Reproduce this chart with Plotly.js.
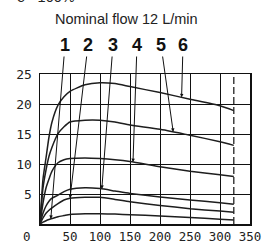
<!DOCTYPE html>
<html>
<head>
<meta charset="utf-8">
<script src="https://cdn.plot.ly/plotly-3.0.1.min.js"></script>
<style>html,body{margin:0;padding:0;background:#fff;}#chart{width:269px;height:244px;}</style>
</head>
<body>
<div id="chart"></div>
<script>
// Pressure (x) sample points
const pressure = [0, 5, 10, 15, 20, 30, 40, 50, 75, 100, 125, 150, 200, 250, 300, 323];
// Curves from top to bottom
const curveA = [0, 7.5, 11, 14.5, 17, 19.8, 21.2, 22.1, 23.2, 23.55, 23.4, 22.9, 21.9, 20.8, 19.7, 18.9];
const curveB = [0, 6, 9, 11.3, 12.8, 15.05, 16.2, 17.0, 17.3, 17.3, 17.0, 16.5, 15.8, 14.8, 13.7, 13.1];
const curveC = [0, 3.5, 6, 7.5, 8.8, 10.2, 10.7, 10.9, 11.0, 10.9, 10.7, 10.4, 9.55, 8.8, 8.2, 7.9];
const curveD = [0, 1.8, 3, 3.8, 4.3, 4.8, 5.4, 5.8, 6.05, 5.9, 5.5, 5.1, 4.5, 4.0, 3.55, 3.3];
const curveE = [0, 1.0, 1.8, 2.3, 2.7, 3.4, 4.0, 4.3, 4.45, 4.45, 4.1, 3.7, 3.1, 2.55, 2.15, 1.95];
const curveF = [0, 0.3, 0.55, 0.75, 0.9, 1.2, 1.4, 1.6, 1.7, 1.7, 1.65, 1.55, 1.35, 1.1, 0.8, 0.65];
const maxPressure = 323;

// Curve labels and where their leaders point
const labelNames = ["1", "2", "3", "4", "5", "6"];
const labelCurves = [curveF, curveE, curveD, curveC, curveB, curveA];
const labelTargetX = [18, 50, 103, 155, 222, 236];

const xTickVals = [50, 100, 150, 200, 250, 300, 350];
const xTickText = ["50", "100", "150", "200", "250", "300", "350"];
const yTickVals = [5, 10, 15, 20, 25];
const yTickText = ["5", "10", "15", "20", "25"];

const titleText = "Nominal flow 12 L/min";
const topText = "\u03b4 =100%";
const zeroText = "0";

function interp(xs, ys, x) {
  for (let i = 0; i < xs.length - 1; i++) {
    if (x >= xs[i] && x <= xs[i + 1]) {
      const t = (x - xs[i]) / (xs[i + 1] - xs[i]);
      return ys[i] + t * (ys[i + 1] - ys[i]);
    }
  }
  return ys[ys.length - 1];
}

const lineStyle = {color: '#1e1e1e', width: 1.5, shape: 'spline', smoothing: 0.6};
const traces = [curveA, curveB, curveC, curveD, curveE, curveF].map(c => ({
  x: pressure, y: c, mode: 'lines', line: lineStyle, hoverinfo: 'skip', showlegend: false
}));
traces.push({
  x: [maxPressure, maxPressure], y: [0, 25], mode: 'lines',
  line: {color: '#222', width: 1.3, dash: '7px,3px'}, showlegend: false, hoverinfo: 'skip'
});

// label text pixel positions (layout)
const labelPx = [65, 88, 113, 137, 161, 183];
const labelPy = 45;
const annotations = labelNames.map((n, i) => {
  const tx = labelTargetX[i];
  const ty = interp(pressure, labelCurves[i], tx);
  return {
    x: tx, y: ty, xref: 'x', yref: 'y',
    axref: 'x', ayref: 'y',
    ax: (labelPx[i] - 40) / 0.6, ay: (224 - labelPy) / 6,
    text: '<b>' + n + '</b>', showarrow: true,
    arrowhead: 2, arrowsize: 0.7, arrowwidth: 1, arrowcolor: '#111',
    standoff: 0, startstandoff: 0,
    font: {family: 'Liberation Sans, Arial, sans-serif', size: 18, color: '#111'}
  };
});
annotations.push({
  xref: 'paper', yref: 'paper', x: (126 - 40) / 210, y: (224 - 19) / 150,
  xanchor: 'center', yanchor: 'middle', showarrow: false, text: titleText,
  font: {family: 'Liberation Sans, Arial, sans-serif', size: 14.5, color: '#222'}
});
annotations.push({
  xref: 'paper', yref: 'paper', x: (46 - 40) / 210, y: (224 + 3.5) / 150,
  xanchor: 'center', yanchor: 'middle', showarrow: false, text: topText,
  font: {family: 'Liberation Sans, Arial, sans-serif', size: 14.5, color: '#222'}
});
annotations.push({
  xref: 'paper', yref: 'paper', x: (27 - 40) / 210, y: -(236 - 224) / 150,
  xanchor: 'center', yanchor: 'middle', showarrow: false, text: zeroText,
  font: {family: 'DejaVu Sans Mono, monospace', size: 12.5, color: '#222'}
});

const layout = {
  width: 269, height: 244,
  margin: {l: 40, r: 19, t: 74, b: 20, pad: 0},
  paper_bgcolor: '#fff', plot_bgcolor: '#fff',
  showlegend: false,
  xaxis: {
    range: [0, 350], tickvals: xTickVals, ticktext: xTickText,
    showgrid: true, gridcolor: '#111', gridwidth: 1,
    zeroline: false, showline: true, linecolor: '#111', linewidth: 1.5, mirror: true,
    ticks: '', ticklen: 0,
    tickfont: {family: 'DejaVu Sans Mono, monospace', size: 12.5, color: '#222'},
    fixedrange: true
  },
  yaxis: {
    range: [0, 25], tickvals: yTickVals, ticktext: yTickText,
    showgrid: true, gridcolor: '#111', gridwidth: 1,
    zeroline: false, showline: true, linecolor: '#111', linewidth: 1.5, mirror: true,
    ticks: 'outside', ticklen: 4, tickcolor: 'rgba(0,0,0,0)',
    tickfont: {family: 'DejaVu Sans Mono, monospace', size: 13, color: '#222'},
    fixedrange: true
  },
  annotations: annotations
};

Plotly.newPlot('chart', traces, layout, {displayModeBar: false, staticPlot: true});
</script>
</body>
</html>
